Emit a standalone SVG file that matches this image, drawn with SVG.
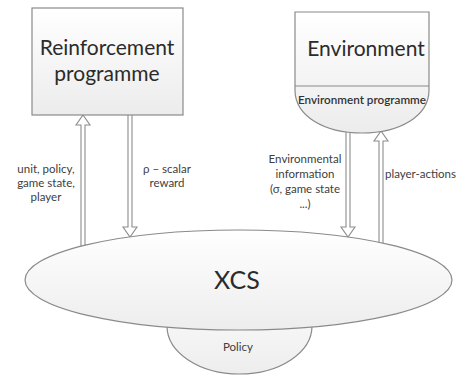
<svg xmlns="http://www.w3.org/2000/svg" width="465" height="376" viewBox="0 0 465 376">
  <defs>
    <linearGradient id="boxFill" x1="0" y1="0" x2="0" y2="1">
      <stop offset="0" stop-color="#ffffff"/>
      <stop offset="1" stop-color="#ececec"/>
    </linearGradient>
    <linearGradient id="ovalFill" x1="0" y1="0" x2="0" y2="1">
      <stop offset="0" stop-color="#ffffff"/>
      <stop offset="1" stop-color="#ededed"/>
    </linearGradient>
  </defs>
  <style>
    .shape { fill: url(#boxFill); stroke: #8a8a8a; stroke-width: 1.2; }
    .oval { fill: url(#ovalFill); stroke: #8a8a8a; stroke-width: 1.2; }
    .arrow { fill: #ffffff; stroke: #8c8c8c; stroke-width: 1.1; stroke-linejoin: miter; }
    .title { font-family: Lato, "Liberation Sans", sans-serif; font-size: 21px; fill: #2b2b2b; text-anchor: middle; }
    .big { font-family: Lato, "Liberation Sans", sans-serif; font-size: 25px; fill: #2b2b2b; text-anchor: middle; }
    .label { font-family: Lato, "Liberation Sans", sans-serif; font-size: 11.5px; fill: #404040; text-anchor: middle; }
    .small { font-family: Lato, "Liberation Sans", sans-serif; font-size: 11.5px; font-weight: 600; fill: #333333; text-anchor: middle; }
  </style>
  <rect width="465" height="376" fill="#ffffff"/>

  <!-- double-line hollow arrows -->
  <g id="connectors">
    <!-- XCS -> Reinforcement programme -->
    <path class="arrow" d="M81,247 V125 L76,125 L83,115 L90,125 L85,125 V247"/>
    <!-- Reinforcement programme -> XCS -->
    <path class="arrow" d="M128,115 V227 L123,227 L130,237 L137,227 L132,227 V115"/>
    <!-- Environment -> XCS -->
    <path class="arrow" d="M346,131 V227 L341,227 L348,237 L355,227 L350,227 V131"/>
    <!-- XCS -> Environment -->
    <path class="arrow" d="M379,244 V141 L374,141 L381,131 L388,141 L383,141 V244"/>
  </g>

  <g id="reinforcement">
    <rect class="shape" x="32" y="8" width="151" height="107"/>
    <text class="title" x="107" y="55">Reinforcement</text>
    <text class="title" x="107" y="81">programme</text>
  </g>

  <g id="environment">
    <path class="shape" d="M295,12 H429 V90 C429,116 400,133 362,133 C324,133 295,116 295,90 Z"/>
    <line x1="295" y1="86" x2="429" y2="86" stroke="#8a8a8a" stroke-width="1.2"/>
    <text class="title" x="366" y="56">Environment</text>
    <text class="small" x="362" y="104" textLength="128" lengthAdjust="spacingAndGlyphs">Environment programme</text>
  </g>

  <g id="policy">
    <ellipse class="oval" cx="239.5" cy="326" rx="72.5" ry="48"/>
    <text class="label" x="238" y="351">Policy</text>
  </g>

  <g id="xcs">
    <ellipse class="oval" cx="238.5" cy="280" rx="213.5" ry="50"/>
    <text class="big" x="237" y="289">XCS</text>
  </g>

  <g id="labels">
    <text class="label" x="46" y="173">unit, policy,</text>
    <text class="label" x="46" y="187">game state,</text>
    <text class="label" x="46" y="201">player</text>
    <text class="label" x="167" y="173">ρ – scalar</text>
    <text class="label" x="167" y="187">reward</text>
    <text class="label" x="305" y="163">Environmental</text>
    <text class="label" x="305" y="178">information</text>
    <text class="label" x="305" y="193">(σ, game state</text>
    <text class="label" x="305" y="208">...)</text>
    <text class="label" x="420.5" y="178" fill="#4a3346">player-actions</text>
  </g>
</svg>
